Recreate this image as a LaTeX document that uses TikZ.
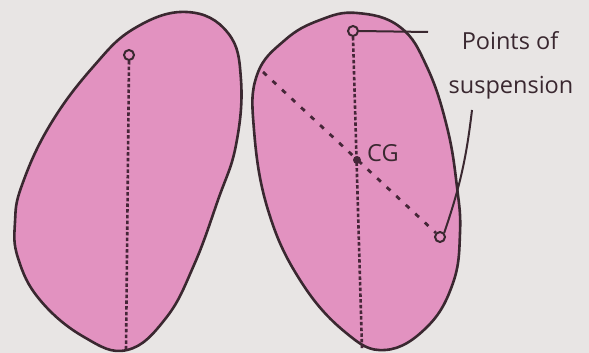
\documentclass[tikz,border=0pt]{standalone}
\usepackage{fontspec}
\setmainfont{Open Sans}
\definecolor{bg}{RGB}{232,229,228}
\definecolor{pinkfill}{RGB}{226,146,192}
\definecolor{ink}{RGB}{58,40,48}
\definecolor{dashink}{RGB}{70,38,56}
\tikzset{
  blob/.style={draw=ink, line width=2.6pt, fill=pinkfill},
  pivot/.style={circle, draw=ink, line width=2pt, fill=pinkfill, minimum size=10pt, inner sep=0pt},
  plumb/.style={draw=dashink, line width=2.6pt, dash pattern=on 3.5pt off 2.2pt},
  diag/.style={draw=dashink, line width=2.8pt, dash pattern=on 5pt off 8pt},
  leader/.style={draw=ink, line width=2pt},
  lbl/.style={font=\fontsize{23.5}{28}\selectfont, text=ink, inner sep=0pt}
}
\begin{document}
\begin{tikzpicture}[x=1pt,y=-1pt]
\useasboundingbox[fill=bg] (0,0) rectangle (589,353);
% left body
\draw[blob] plot[smooth cycle, tension=0.7] coordinates {
 (187,12) (228,33) (241,80) (236,145) (218,200) (194,265) (166,318) (127,350)
 (84,337) (40,300) (18,258) (15,222) (22,185) (50,125) (93,67) (135,28)};
% right body
\draw[blob] plot[smooth cycle, tension=0.7] coordinates {
 (357,13) (400,27) (427,67) (447,127) (457,187) (460,233) (453,283) (427,327)
 (385,350) (345,332) (300,280) (268,210) (254,130) (257,75) (285,40) (320,20)};
% left plumb line
\node[pivot] (p1) at (129,55) {};
\coordinate (b1) at (126,351);
\draw[plumb] (p1.south) -- (b1);
% right plumb lines
\node[pivot] (p2) at (353,31) {};
\node[pivot] (p3) at (440,237) {};
\coordinate (b2) at (362,349);
\coordinate (d1) at (263,72);
\coordinate (cg) at (357,160);
\draw[plumb] (p2.south) -- (b2);
\draw[diag] (d1) -- (p3.north west);
\fill[dashink] (cg) circle (4pt);
\node[lbl, anchor=base west] (cgl) at (367,161) {CG};
% labels
\node[lbl, anchor=base] (t1) at (510,50) {Points of};
\node[lbl, anchor=base] (t2) at (511,93) {suspension};
\coordinate (e1) at (428,32);
\coordinate (e2) at (472,110);
\draw[leader] (p2.east) -- (e1);
\draw[leader] (p3.north east) to[bend right=6] (e2);
\end{tikzpicture}
\end{document}
